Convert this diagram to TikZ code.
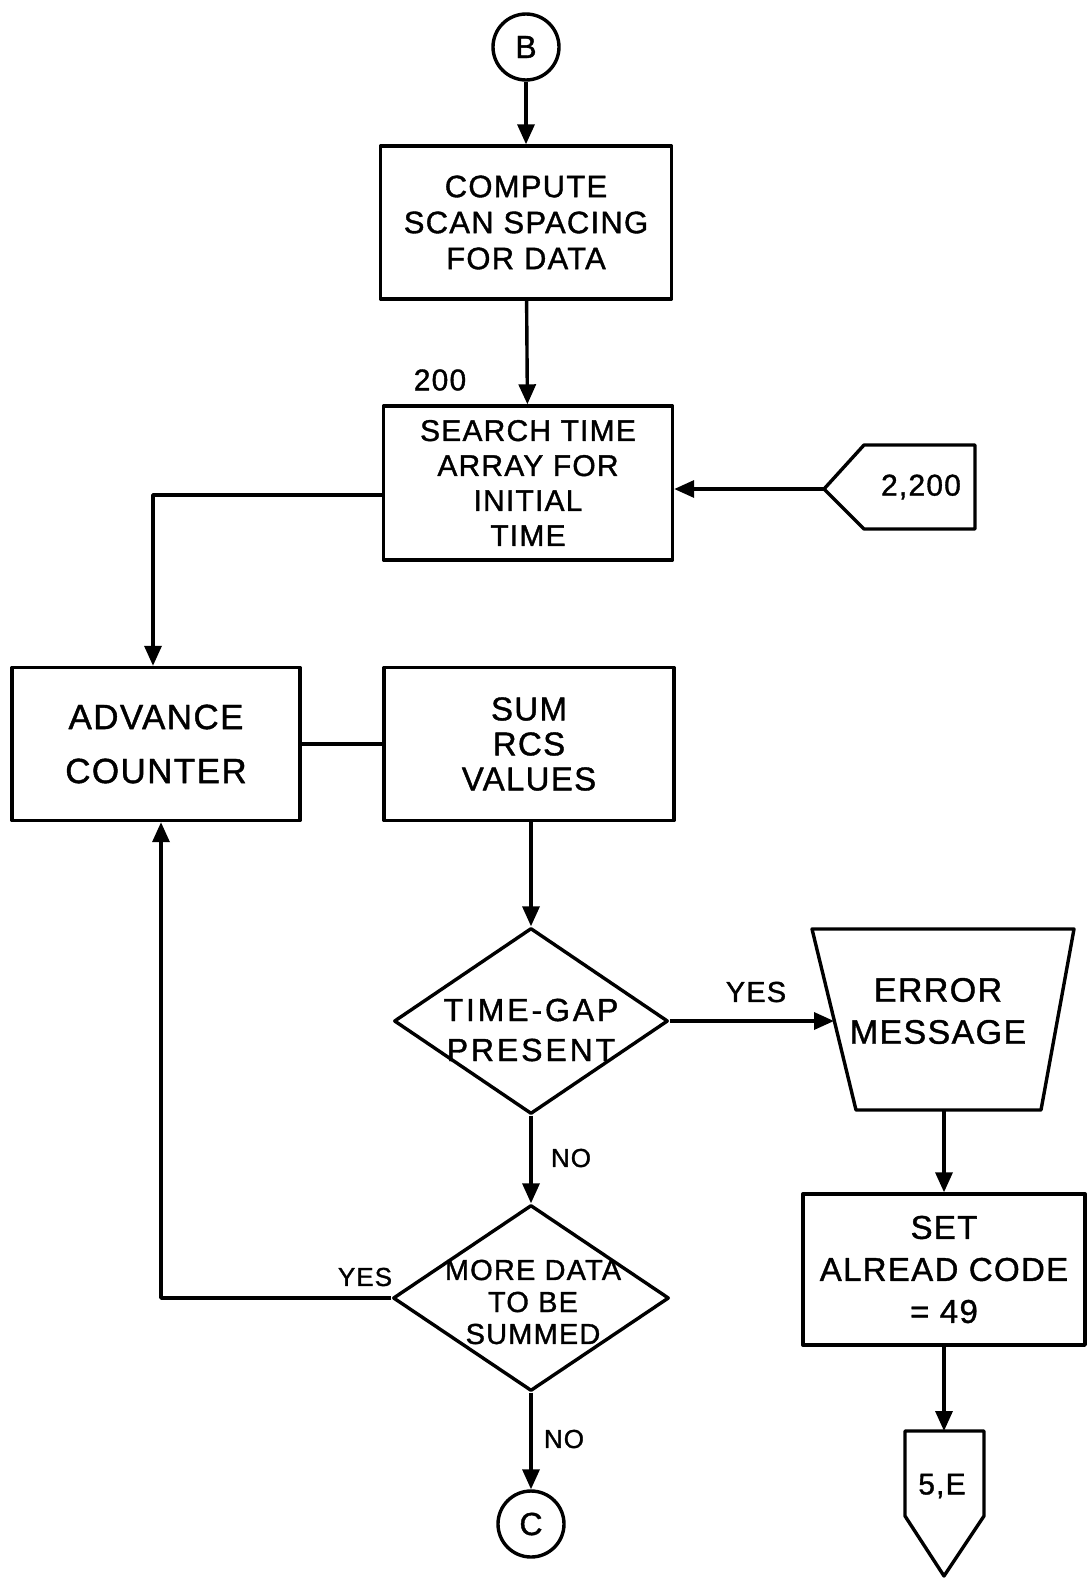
\documentclass[tikz,border=0pt]{standalone}
\usepackage{fontspec}
\setmainfont[LetterSpace=4,FakeBold=1.2]{Liberation Sans}
\usetikzlibrary{arrows.meta,shapes.geometric}
\newcommand{\fs}[2]{\fontsize{#1}{#2}\selectfont}
\begin{document}
\begin{tikzpicture}[x=1pt,y=-1pt,line width=3.4pt,line join=round,
  box/.style={draw,rectangle,align=center,inner sep=0pt},
  txt/.style={align=center,inner sep=0pt},
  circ/.style={draw,circle,minimum size=66pt,inner sep=0pt,font=\fs{32}{36}},
  dia/.style={draw,diamond,inner sep=0pt},
  arr/.style={-{Triangle[length=20pt,width=17pt]}}]
\useasboundingbox (0,0) rectangle (1088,1579);
\fill[white] (0,0) rectangle (1088,1579);

% connector B
\node[circ] (B) at (526,47) {B};
% compute
\node[box,minimum width=291pt,minimum height=153pt,font=\fs{31}{36}] (compute) at (526,222.5) {COMPUTE\\SCAN SPACING\\FOR DATA};
% 200 label
\node[txt,font=\fs{30}{36}] (l200) at (440,380) {200};
% search
\node[box,minimum width=289pt,minimum height=154pt,font=\fs{30}{35}] (search) at (528,483) {SEARCH TIME\\ARRAY FOR\\INITIAL\hspace*{1.2em}\\TIME};
% 2,200 off-page connector
\draw (824,489) -- (864,445) -- (975,445) -- (975,529) -- (864,529) -- cycle;
\coordinate (p200tip) at (824,489);
\node[txt,font=\fs{30}{36}] (p200) at (921,487) {2,200};
% advance counter
\node[box,minimum width=288pt,minimum height=153pt,font=\fs{35}{54}] (adv) at (156,744) {ADVANCE\\COUNTER};
% sum
\node[box,minimum width=290pt,minimum height=153pt,font=\fs{33}{35}] (sum) at (529,744) {SUM\\RCS\\VALUES};
% decision 1
\node[dia,minimum width=274pt,minimum height=186pt] (d1) at (531,1021) {};
\node[txt,font=\fs{32}{40}\addfontfeature{LetterSpace=9}] (d1t) at (531,1030) {TIME-GAP\\PRESENT};
\node[txt,font=\fs{29}{36}] (yes1) at (756,992) {YES};
% error message
\draw (812,929) -- (1074,929) -- (1041,1110) -- (856,1110) -- cycle;
\node[txt,font=\fs{34}{42}] (err) at (938,1011) {ERROR\\MESSAGE};
\coordinate (errL) at (834,1021);
\coordinate (errB) at (944,1110);
% set alread code
\node[box,minimum width=282pt,minimum height=151pt,font=\fs{33}{42}] (set) at (944,1269.5) {SET\\ALREAD CODE\\= 49};
% 5,E off-page connector
\draw (905,1431) -- (984,1431) -- (984,1516) -- (944,1576) -- (905,1516) -- cycle;
\coordinate (pE) at (944,1431);
\node[txt,font=\fs{30}{36}] (pEt) at (942,1486) {5,E};
% decision 2
\node[dia,minimum width=276pt,minimum height=186pt] (d2) at (531,1298) {};
\node[txt,font=\fs{29}{32}] (d2t) at (533,1302) {MORE DATA\\TO BE\\SUMMED};
\node[txt,font=\fs{26}{30}] (no1) at (571,1158) {NO};
\node[txt,font=\fs{26}{30}] (yes2) at (365,1277) {YES};
\node[txt,font=\fs{26}{30}] (no2) at (564,1439) {NO};
% connector C
\node[circ] (C) at (531,1524) {C};

% connectors
\draw[arr] (B) -- (compute);
\draw[arr] (compute) -- (search);
\draw[arr] (p200tip) -- (search.east |- p200tip);
\draw[arr] ([yshift=-12pt]search.west) -| ([xshift=-3pt]adv.north);
\draw (adv.east) -- (sum.west);
\draw[arr] (sum.south -| d1.north) -- (d1.north);
\draw[arr] (d1.east) -- (errL);
\draw[arr] (errB) -- (set.north);
\draw[arr] (set.south) -- (pE);
\draw[arr] (d1.south) -- (d2.north);
\draw[arr] (d2.west) -| ([xshift=5pt]adv.south);
\draw[arr] (d2.south) -- (C.north);
\end{tikzpicture}
\end{document}
